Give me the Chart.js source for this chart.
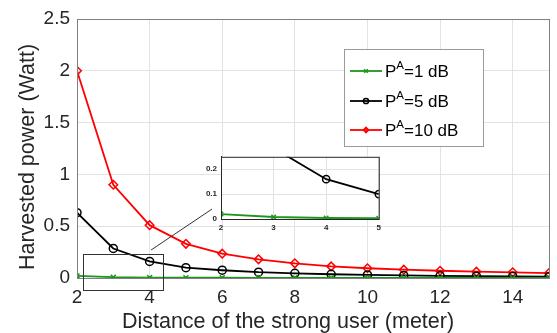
<!DOCTYPE html>
<html>
<head>
<meta charset="utf-8">
<script src="https://cdn.jsdelivr.net/npm/chart.js@4.4.1/dist/chart.umd.min.js"></script>
<style>
  body { margin: 0; background: #fff; }
  #wrap { position: relative; width: 557px; height: 333px; }
  #grafico { position: absolute; left: 0; top: 0; }
  #zoom { position: absolute; left: 190px; top: 148px; }
</style>
</head>
<body>
<div id="wrap">
  <canvas id="grafico" width="557" height="333"></canvas>
  <canvas id="zoom" width="195" height="90"></canvas>
</div>
<script>
// distancia do usuario forte (m)
const distancias = [2, 3, 4, 5, 6, 7, 8, 9, 10, 11, 12, 13, 14, 15];
const potencia1dB = [0.020, 0.008, 0.004, 0.003, 0.0025, 0.002, 0.0018, 0.0016, 0.0014, 0.0013, 0.0012, 0.0011, 0.001, 0.001];
const potencia5dB = [0.63, 0.285, 0.16, 0.10, 0.075, 0.056, 0.045, 0.036, 0.030, 0.025, 0.021, 0.018, 0.016, 0.014];
const potencia10dB = [2.0, 0.9, 0.51, 0.33, 0.235, 0.18, 0.142, 0.112, 0.094, 0.08, 0.07, 0.061, 0.055, 0.048];

const xTicks = [2, 4, 6, 8, 10, 12, 14];
const yTicks = [0, 0.5, 1, 1.5, 2, 2.5];
const xTicksZoom = [2, 3, 4, 5];
const yTicksZoom = [0, 0.1, 0.2];

const series = [
  { label: 'P^A=1 dB', data: potencia1dB, cor: '#1e961e', ponto: 'crossRot', raio: 3.5 },
  { label: 'P^A=5 dB', data: potencia5dB, cor: '#000000', ponto: 'circle', raio: 4 },
  { label: 'P^A=10 dB', data: potencia10dB, cor: '#ff0000', ponto: 'rectRot', raio: 4.3 }
];

function montarDatasets(xMax, escala) {
  return series.map(s => ({
    label: s.label,
    data: distancias.map((d, i) => ({ x: d, y: s.data[i] })).filter(p => p.x <= xMax),
    borderColor: s.cor,
    backgroundColor: 'rgba(0,0,0,0)',
    pointBorderColor: s.cor,
    pointBackgroundColor: 'rgba(0,0,0,0)',
    pointStyle: s.ponto,
    pointRadius: s.raio * escala,
    pointBorderWidth: 1.5,
    borderWidth: 1.8,
    tension: 0
  }));
}

const FONTE = '"Liberation Sans", Arial, sans-serif';

// caixa, legenda, titulos e zoom
const extras = {
  id: 'extras',
  afterDraw(chart) {
    const ctx = chart.ctx;
    const a = chart.chartArea;
    const sx = chart.scales.x, sy = chart.scales.y;
    ctx.save();
    ctx.strokeStyle = '#808080';
    ctx.lineWidth = 1;
    ctx.strokeRect(a.left + 0.5, a.top + 0.5, a.right - a.left, a.bottom - a.top);

    // retangulo da regiao ampliada
    ctx.strokeStyle = '#333';
    const x0 = sx.getPixelForValue(2.165), x1 = sx.getPixelForValue(4.37);
    const y0 = sy.getPixelForValue(0.232), y1 = sy.getPixelForValue(-0.116);
    ctx.strokeRect(Math.round(x0) + 0.5, Math.round(y0) + 0.5, Math.round(x1 - x0), Math.round(y1 - y0));
    ctx.beginPath();
    ctx.moveTo(sx.getPixelForValue(4.04), sy.getPixelForValue(0.27));
    ctx.lineTo(sx.getPixelForValue(5.72), sy.getPixelForValue(0.666));
    ctx.stroke();

    // titulos dos eixos
    ctx.fillStyle = '#262626';
    ctx.font = '21.5px ' + FONTE;
    ctx.textAlign = 'center';
    ctx.textBaseline = 'alphabetic';
    ctx.fillText('Distance of the strong user (meter)', 288, 328);
    ctx.translate(34, 157);
    ctx.rotate(-Math.PI / 2);
    ctx.fillText('Harvested power (Watt)', 0, 0);
    ctx.restore();

    // legenda
    ctx.save();
    const lx = 344, ly = 49, lw = 139, lh = 97;
    ctx.fillStyle = '#fff';
    ctx.fillRect(lx, ly, lw, lh);
    ctx.strokeStyle = '#9a9a9a';
    ctx.lineWidth = 1;
    ctx.strokeRect(lx + 0.5, ly + 0.5, lw, lh);
    const linhas = [71, 101, 130];
    chart.data.datasets.forEach((ds, i) => {
      const y = linhas[i];
      ctx.strokeStyle = ds.borderColor;
      ctx.lineWidth = 1.8;
      ctx.beginPath();
      ctx.moveTo(350, y);
      ctx.lineTo(382, y);
      ctx.stroke();
      ctx.fillStyle = 'rgba(0,0,0,0)';
      ctx.lineWidth = 1.5;
      Chart.helpers.drawPoint(ctx, { pointStyle: ds.pointStyle, radius: 2.6, borderWidth: 1.5 }, 366, y);
      const partes = ds.label.split('^');
      const resto = partes[1].slice(1);
      ctx.fillStyle = '#000';
      ctx.textBaseline = 'alphabetic';
      ctx.textAlign = 'left';
      ctx.font = '17px ' + FONTE;
      let tx = 385;
      ctx.fillText(partes[0], tx, y + 6);
      tx += ctx.measureText(partes[0]).width;
      ctx.font = '11.5px ' + FONTE;
      ctx.fillText(partes[1][0], tx, y - 2);
      tx += ctx.measureText(partes[1][0]).width;
      ctx.font = '17px ' + FONTE;
      ctx.fillText(resto, tx, y + 6);
    });
    ctx.restore();
  }
};

const fundoZoom = {
  id: 'fundoZoom',
  beforeDraw(chart) {
    const a = chart.chartArea;
    chart.ctx.save();
    chart.ctx.fillStyle = '#fff';
    chart.ctx.fillRect(a.left, a.top, a.right - a.left, a.bottom - a.top);
    chart.ctx.restore();
  },
  afterDraw(chart) {
    const a = chart.chartArea;
    chart.ctx.save();
    chart.ctx.strokeStyle = '#262626';
    chart.ctx.lineWidth = 1;
    chart.ctx.strokeRect(a.left + 0.5, a.top + 0.5, a.right - a.left, a.bottom - a.top);
    chart.ctx.restore();
  }
};

const fundoBranco = {
  id: 'fundoBranco',
  beforeDraw(chart) {
    chart.ctx.save();
    chart.ctx.fillStyle = '#fff';
    chart.ctx.fillRect(0, 0, chart.width, chart.height);
    chart.ctx.restore();
  }
};

new Chart(document.getElementById('grafico'), {
  type: 'line',
  data: { datasets: montarDatasets(15, 1) },
  options: {
    responsive: false,
    animation: false,
    devicePixelRatio: 1,
    layout: { padding: { left: 0, right: 8, top: 19, bottom: 0 } },
    plugins: { legend: { display: false }, tooltip: { enabled: false } },
    scales: {
      x: {
        type: 'linear', min: 2, max: 15,
        afterBuildTicks: s => { s.ticks = xTicks.map(v => ({ value: v })); },
        afterFit: s => { s.height = 55; },
        grid: { color: '#e3e3e3', tickLength: 0 },
        border: { color: '#808080' },
        ticks: { color: '#262626', font: { family: FONTE, size: 19 }, padding: 8, maxRotation: 0, callback: v => String(v) }
      },
      y: {
        type: 'linear', min: 0, max: 2.5,
        afterBuildTicks: s => { s.ticks = yTicks.map(v => ({ value: v })); },
        afterFit: s => { s.width = 77; },
        grid: { color: '#e3e3e3', tickLength: 0 },
        border: { color: '#808080' },
        ticks: { color: '#262626', font: { family: FONTE, size: 19 }, padding: 7, callback: v => String(v) }
      }
    }
  },
  plugins: [fundoBranco, extras]
});

new Chart(document.getElementById('zoom'), {
  type: 'line',
  data: { datasets: montarDatasets(5, 0.9) },
  options: {
    responsive: false,
    animation: false,
    devicePixelRatio: 1,
    layout: { padding: { left: 0, right: 6, top: 7, bottom: 0 } },
    plugins: { legend: { display: false }, tooltip: { enabled: false } },
    scales: {
      x: {
        type: 'linear', min: 2, max: 5,
        afterBuildTicks: s => { s.ticks = xTicksZoom.map(v => ({ value: v })); },
        afterFit: s => { s.height = 19; },
        grid: { color: '#e3e3e3', tickLength: 0 },
        border: { color: '#262626' },
        ticks: { color: '#262626', font: { family: FONTE, size: 8, weight: 'bold' }, padding: 4, maxRotation: 0, callback: v => String(v) }
      },
      y: {
        type: 'linear', min: 0, max: 0.25,
        afterBuildTicks: s => { s.ticks = yTicksZoom.map(v => ({ value: v })); },
        afterFit: s => { s.width = 31; },
        grid: { color: '#e3e3e3', tickLength: 0 },
        border: { color: '#262626' },
        ticks: { color: '#262626', font: { family: FONTE, size: 8, weight: 'bold' }, padding: 4, callback: v => String(v) }
      }
    }
  },
  plugins: [fundoZoom]
});
</script>
</body>
</html>
